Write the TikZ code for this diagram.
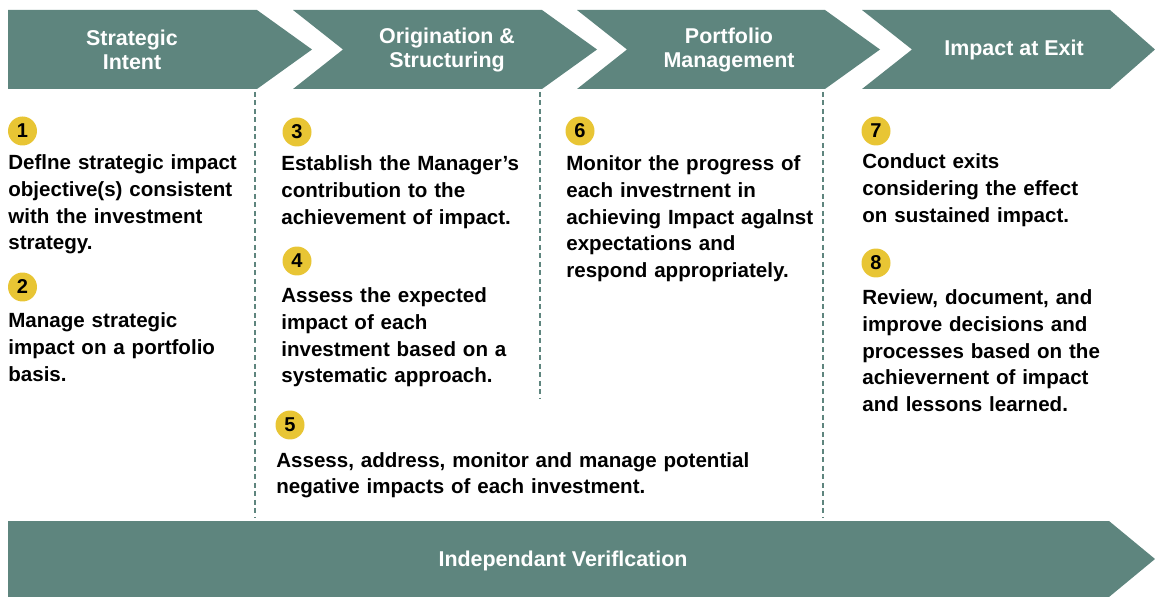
\documentclass[tikz,border=0pt]{standalone}
\usepackage{fontspec}
\setmainfont{Liberation Sans}
\usepackage{tikz}

\definecolor{sage}{HTML}{5E857E}
\definecolor{gold}{HTML}{E8C534}

\begin{document}
\begin{tikzpicture}[x=0.02cm,y=-0.02cm,
    head/.style={text=white,align=center,font=\bfseries\fontsize{12.2}{13.7}\selectfont},
    num/.style={circle,fill=gold,minimum size=0.58cm,inner sep=0pt,font=\bfseries\fontsize{11.4}{12}\selectfont},
    body/.style={anchor=base west,inner sep=0pt,align=left,font=\bfseries\fontsize{11.7}{15.1}\selectfont},
    sep/.style={sage,line width=1.3pt,dash pattern=on 0.1cm off 0.07cm}]
  \useasboundingbox (0,0) rectangle (1155,597);

  % Cabecera: cuatro flechas
  \fill[sage] (8,10) -- (257,10) -- (312,49.5) -- (257,89) -- (8,89) -- cycle;
  \fill[sage] (293,10) -- (542,10) -- (597,49.5) -- (542,89) -- (293,89) -- (343,49.5) -- cycle;
  \fill[sage] (577,10) -- (825,10) -- (880,49.5) -- (825,89) -- (577,89) -- (627,49.5) -- cycle;
  \fill[sage] (862,10) -- (1110,10) -- (1155,49.5) -- (1110,89) -- (862,89) -- (912,49.5) -- cycle;
  \node[head] (intent) at (132,50) {Strategic\\Intent};
  \node[head] (orig) at (447,50) {Origination \&\\Structuring};
  \node[head] (port) at (729,50) {Portfolio\\Management};
  \node[head] (exit) at (1014,50) {Impact at Exit};

  % Separadores
  \draw[sep] (255,92) -- (255,517);
  \draw[sep] (540,92) -- (540,398);
  \draw[sep] (823,92) -- (823,517);

  % Columna 1
  \node[num] (n1) at (22.5,131) {1};
  \node[body,text width=245*0.02cm] (p1) at (8,170) {Deflne strategic impact\\objective(s) consistent\\with the investment\\strategy.};
  \node[num] (n2) at (22.5,287) {2};
  \node[body,text width=245*0.02cm] (p2) at (8,328) {Manage strategic\\impact on a portfolio\\basis.};

  % Columna 2
  \node[num] (n3) at (297,132) {3};
  \node[body,text width=255*0.02cm] (p3) at (281,171) {Establish the Manager’s\\contribution to the\\achievement of impact.};
  \node[num] (n4) at (297,261) {4};
  \node[body,text width=255*0.02cm] (p4) at (281,303) {Assess the expected\\impact of each\\investment based on a\\systematic approach.};
  \node[num] (n5) at (290,425) {5};
  \node[body,text width=530*0.02cm] (p5) at (276,467) {Assess, address, monitor and manage potential\\negative impacts of each investment.};

  % Columna 3
  \node[num] (n6) at (580,131) {6};
  \node[body,text width=255*0.02cm] (p6) at (566,171) {Monitor the progress of\\each investrnent in\\achieving Impact agalnst\\expectations and\\respond appropriately.};

  % Columna 4
  \node[num] (n7) at (876,131) {7};
  \node[body,text width=270*0.02cm] (p7) at (862,169) {Conduct exits\\considering the effect\\on sustained impact.};
  \node[num] (n8) at (876,263) {8};
  \node[body,text width=270*0.02cm] (p8) at (862,305) {Review, document, and\\improve decisions and\\processes based on the\\achievernent of impact\\and lessons learned.};

  % Flecha inferior
  \fill[sage] (8,521) -- (1109,521) -- (1155,559) -- (1109,597) -- (8,597) -- cycle;
  \node[head] (verif) at (563,561) {Independant Veriflcation};
\end{tikzpicture}
\end{document}
